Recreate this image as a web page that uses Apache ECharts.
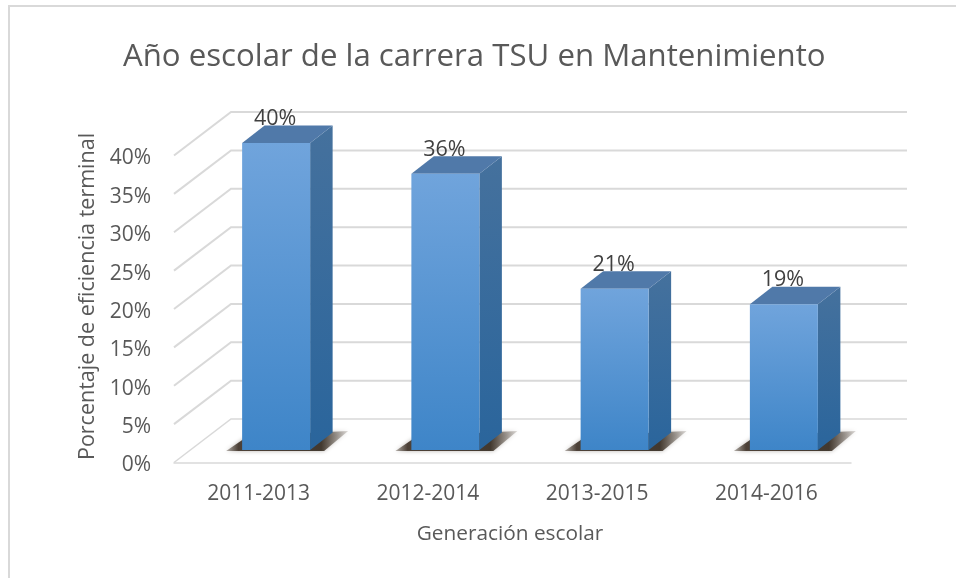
<!DOCTYPE html>
<html><head><meta charset="utf-8">
<style>html,body{margin:0;padding:0;background:#fff}#c{width:956px;height:578px}</style>
<script src="https://cdn.jsdelivr.net/npm/echarts@6/dist/echarts.min.js"></script>
</head><body><div id="c"></div>
<script>
const categories = ['2011-2013','2012-2014','2013-2015','2014-2016'];
const values = [40,36,21,19];
const ticks = [0,5,10,15,20,25,30,35,40];
const titleText = 'Año escolar de la carrera TSU en Mantenimiento';
const xName = 'Generación escolar';
const yName = 'Porcentaje de eficiencia terminal';

// oblique projection of the chart's depth, in pixels
const WALL_DX = 57, WALL_DY = -43.5;
const BAR_OFF_X = 17.5, BAR_OFF_Y = -12.5;
const BAR_DX = 22.5, BAR_DY = -17.5;
const BAR_W = 68;
const GRID = '#d9d9d9', TEXT = '#595959';
const FONT = '"Open Sans"';

const chart = echarts.init(document.getElementById('c'), null, {renderer:'canvas'});

function grad(x1,y1,x2,y2,a,b){return new echarts.graphic.LinearGradient(x1,y1,x2,y2,[{offset:0,color:a},{offset:1,color:b}]);}

chart.setOption({
  animation:false,
  backgroundColor:'#fff',
  title:{text:titleText,left:123,top:42,padding:0,textStyle:{fontFamily:FONT,fontSize:31.2,fontWeight:'normal',color:TEXT}},
  grid:{left:174,right:105,top:155.5,bottom:115.5,containLabel:false},
  xAxis:{type:'category',data:categories,name:xName,nameLocation:'middle',nameGap:61,
    nameTextStyle:{fontFamily:FONT,fontSize:20.8,color:TEXT,padding:[0,5,0,0]},
    axisLine:{show:true,lineStyle:{color:GRID,width:1.5}},axisTick:{show:false},
    axisLabel:{fontFamily:FONT,fontSize:21,color:TEXT,margin:21},splitLine:{show:false}},
  yAxis:{type:'value',min:0,max:40,interval:5,name:yName,nameLocation:'middle',nameGap:74,nameRotate:90,
    nameTextStyle:{fontFamily:FONT,fontSize:21.5,color:TEXT,padding:[0,0,0,25]},
    axisLine:{show:false},axisTick:{show:false},splitLine:{show:false},
    axisLabel:{formatter:v=>'{a|'+v+'%}',margin:23,
      rich:{a:{fontFamily:FONT,fontSize:21,color:TEXT,padding:[6,0,0,0]}}}},
  graphic:[
    {type:'line',silent:true,shape:{x1:9,y1:6,x2:956,y2:6},style:{stroke:GRID,lineWidth:2}},
    {type:'line',silent:true,shape:{x1:9,y1:5,x2:9,y2:578},style:{stroke:GRID,lineWidth:2}}
  ],
  series:[
    {type:'custom',z:1,silent:true,coordinateSystem:'cartesian2d',data:ticks.map(t=>[0,t]),
     encode:{x:0,y:1},
     renderItem(p,api){
       const y=api.coord([0,api.value(1)])[1], L=p.coordSys.x, R=L+p.coordSys.width;
       const st={stroke:GRID,lineWidth:api.value(1)===0?1.5:2,fill:null};
       return {type:'group',children:[{type:'polyline',shape:{points:[[L,y],[L+WALL_DX,y+WALL_DY],[R+WALL_DX-1,y+WALL_DY]]},style:st}]};
     }},
    {type:'custom',z:2,coordinateSystem:'cartesian2d',data:values.map((v,i)=>[i,v]),
     encode:{x:0,y:1},
     renderItem(p,api){
       const c=api.coord([api.value(0),api.value(1)]), b=api.coord([api.value(0),0]);
       const l=c[0]-BAR_W/2+BAR_OFF_X, r=l+BAR_W, t=c[1]+BAR_OFF_Y, f=b[1]+BAR_OFF_Y;
       const pts={
         shadow:[[l-16,f+1],[l+6,f-14],[r+38,f-19],[r+14,f+1]],
         front:[[l,t],[r,t],[r,f],[l,f]],
         side:[[r,t],[r+BAR_DX,t+BAR_DY],[r+BAR_DX,f+BAR_DY],[r,f]],
         top:[[l,t],[l+BAR_DX,t+BAR_DY],[r+BAR_DX,t+BAR_DY],[r,t]]
       };
       const shadowFill=new echarts.graphic.LinearGradient(0,0,1,0,[
         {offset:0,color:'rgba(100,90,80,0.45)'},{offset:0.1,color:'rgba(70,58,48,0.95)'},
         {offset:0.78,color:'rgba(60,50,40,0.95)'},{offset:1,color:'rgba(120,110,100,0.25)'}]);
       return {type:'group',children:[
         {type:'polygon',shape:{points:pts.shadow},style:{fill:shadowFill,shadowBlur:4,shadowColor:'rgba(90,80,70,0.45)'}},
         {type:'polygon',shape:{points:pts.side},style:{fill:grad(0,0,0,1,'#45719d','#2a659c')}},
         {type:'polygon',shape:{points:pts.top},style:{fill:'#5079a9'}},
         {type:'polygon',shape:{points:pts.front},style:{fill:grad(0,0,0,1,'#70a4dc','#3e85c8')}},
         {type:'text',style:{text:api.value(1)+'%',x:(l+r)/2-1,y:t-24,align:'center',verticalAlign:'middle',fontFamily:FONT,fontSize:21.5,fill:'#404040'},z2:10}
       ]};
     }}
  ]
});
</script></body></html>
